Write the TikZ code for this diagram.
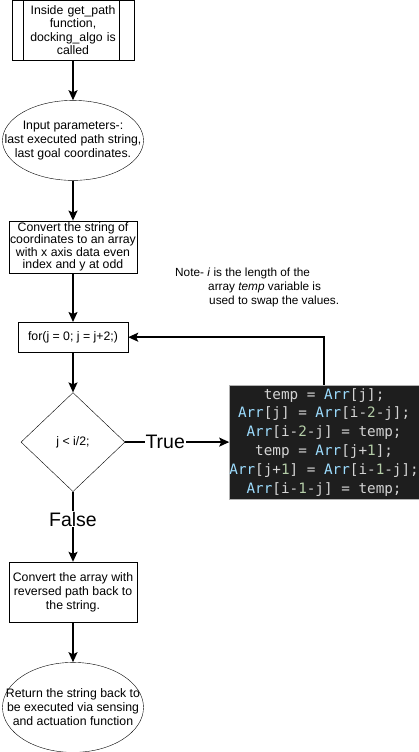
\documentclass[tikz,border=0pt]{standalone}
\usepackage{fontspec}
\setmainfont{Liberation Sans}
\setmonofont{DejaVu Sans Mono}
\usetikzlibrary{positioning,arrows.meta,shapes.geometric}
\definecolor{codebg}{HTML}{1E1E1E}
\definecolor{codefg}{HTML}{D4D4D4}
\definecolor{codeblue}{HTML}{9CDCFE}
\definecolor{codegreen}{HTML}{B5CEA8}
\newcommand{\codeArr}{\textcolor{codeblue}{Arr}}
\newcommand{\codeNum}[1]{\textcolor{codegreen}{#1}}
\tikzset{
  block/.style={
    draw,
    rectangle,
    minimum width=128pt,
    inner sep=1pt,
    align=center,
    font=\fontsize{12.3}{14}\selectfont
  },
  terminal/.style={
    draw,
    ellipse,
    inner sep=0pt,
    minimum width=141pt
  },
  decision/.style={
    draw,
    diamond,
    inner sep=0pt,
    minimum width=104pt,
    minimum height=99pt,
    font=\fontsize{12.3}{14}\selectfont
  },
  codebox/.style={
    draw=gray!60,
    fill=codebg,
    text=codefg,
    rectangle,
    minimum width=189pt,
    minimum height=114pt,
    inner sep=0pt,
    align=center,
    font=\ttfamily\fontsize{14.3}{18.8}\selectfont
  },
  inlabel/.style={align=center, font=\fontsize{12.3}{14}\selectfont},
  branch/.style={fill=white, inner sep=1pt, font=\fontsize{19.5}{22}\selectfont},
  line/.style={-{Stealth[length=10pt,width=9pt,inset=2pt]}, line width=1.5pt}
}

\begin{document}
\begin{tikzpicture}[x=1pt,y=1pt]

	\useasboundingbox (0,0) rectangle (418,-752);

	% start
	\node[block, minimum width=122pt, minimum height=60pt, text width=94pt, font=\fontsize{12.3}{13.5}\selectfont] (get_path) at (73,-30) {Inside get\_path\\ function,\\ docking\_algo is\\ called};
	\draw ([xshift=11pt]get_path.north west) -- ([xshift=11pt]get_path.south west);
	\draw ([xshift=-15pt]get_path.north east) -- ([xshift=-15pt]get_path.south east);

	% input
	\node[terminal, minimum height=80pt, below = 40pt of get_path, label={[inlabel]center:Input parameters-:\\ last executed path string,\\ last goal coordinates.}] (input) {};
	\draw[line] (get_path) -- (input);

	% to array
	\node[block, minimum height=52pt, font=\fontsize{12.3}{12.4}\selectfont, below = 40pt of input] (to_array) {Convert the string of\\ coordinates to an array\\ with x axis data even\\ index and y at odd};
	\draw[line] (input) -- (to_array);

	% loop
	\node[block, minimum width=110pt, minimum height=30pt, below = 49pt of to_array] (for_loop) {for(j = 0; j = j+2;)};
	\draw[line] (to_array) -- (for_loop);

	\node[decision, below = 40pt of for_loop] (check) {j < i/2;};
	\draw[line] (for_loop) -- (check);

	% swap
	\node[codebox, right = 104pt of check] (swap) {temp = \codeArr[j];\\ \codeArr[j] = \codeArr[i-\codeNum{2}-j];\\ \codeArr[i-\codeNum{2}-j] = temp;\\ temp = \codeArr[j+\codeNum{1}];\\ \codeArr[j+\codeNum{1}] = \codeArr[i-\codeNum{1}-j];\\ \codeArr[i-\codeNum{1}-j] = temp;};
	\draw[line] (check.east) -- node[branch, pos=0.385] {True} (swap.west);
	\draw[line] (swap.north) |- (for_loop.east);

	\node[anchor=north west, inner sep=0pt, align=left, font=\fontsize{11.8}{13.8}\selectfont] (note) at (175,-268) {Note- \textit{i} is the length of the\\ \hspace*{33pt}array \textit{temp} variable is\\ \hspace*{34pt}used to swap the values.};

	% back to string
	\node[block, minimum height=60pt, below = 70pt of check] (to_string) {Convert the array with\\ reversed path back to\\ the string.};
	\draw[line] (check.south) -- node[branch, pos=0.39] {False} (to_string.north);

	\node[terminal, minimum height=90pt, below = 40pt of to_string, label={[inlabel]center:Return the string back to\\ be executed via sensing\\ and actuation function}] (output) {};
	\draw[line] (to_string) -- (output);

\end{tikzpicture}
\end{document}
